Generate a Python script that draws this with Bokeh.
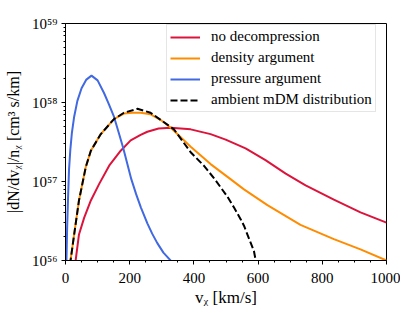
import numpy as np
from bokeh.plotting import figure
from bokeh.models import FixedTicker, CustomJSTickFormatter, Range1d
from bokeh.embed import file_html
from bokeh.resources import INLINE

# ---- data (y stored as log10 values) ----
x_ticks = [0, 200, 400, 600, 800, 1000]
x_minor = [50, 100, 150, 250, 300, 350, 450, 500, 550, 650, 700, 750, 850, 900, 950]
y_exponents = [56, 57, 58, 59]

no_decomp_v = [30, 42, 58, 79, 105, 136, 172, 203, 234, 255, 290, 328, 390, 452, 499, 561, 623, 686, 748, 836, 919, 1000]
no_decomp_log10 = [55.95, 56.33, 56.54, 56.76, 56.97, 57.2, 57.39, 57.52, 57.59, 57.63, 57.67, 57.68, 57.66, 57.6, 57.53, 57.42, 57.27, 57.1, 56.95, 56.77, 56.61, 56.48]

density_v = [14, 27, 42, 63, 79, 110, 151, 182, 208, 234, 265, 300, 328, 390, 452, 514, 556, 629, 732, 836, 919, 1000]
density_log10 = [55.95, 56.33, 56.76, 57.18, 57.39, 57.6, 57.79, 57.86, 57.87, 57.87, 57.85, 57.77, 57.68, 57.44, 57.22, 57.03, 56.9, 56.7, 56.45, 56.27, 56.14, 56.0]

pressure_v = [2, 5, 8, 11, 15, 20, 27, 37, 50, 65, 81, 100, 120, 135, 151, 165, 180, 205, 220, 235, 255, 270, 286, 305, 332]
pressure_log10 = [55.8, 56.4, 56.8, 57.15, 57.4, 57.62, 57.82, 58.02, 58.18, 58.29, 58.34, 58.28, 58.12, 57.98, 57.82, 57.63, 57.42, 57.03, 56.84, 56.67, 56.47, 56.34, 56.22, 56.1, 55.98]

ambient_v = [14, 27, 42, 63, 79, 110, 151, 182, 224, 265, 307, 338, 390, 431, 463, 504, 525, 546, 556, 587, 594]
ambient_log10 = [55.95, 56.33, 56.76, 57.18, 57.39, 57.6, 57.79, 57.87, 57.92, 57.87, 57.75, 57.66, 57.37, 57.2, 57.04, 56.81, 56.67, 56.52, 56.44, 56.12, 55.97]

series = [
    ("no decompression", no_decomp_v, no_decomp_log10, "#dc143c", "solid"),
    ("density argument", density_v, density_log10, "#ff8c00", "solid"),
    ("pressure argument", pressure_v, pressure_log10, "#4169e1", "solid"),
    ("ambient mDM distribution", ambient_v, ambient_log10, "black", "7 3"),
]

SERIF = "Liberation Serif"

p = figure(width=400, height=310, output_backend="svg", toolbar_location=None,
           y_axis_type="log",
           x_range=Range1d(0, 1000), y_range=Range1d(1e56, 1e59),
           min_border_left=65, min_border_right=14, min_border_top=23, min_border_bottom=50)

for label, vs, logs, color, dash in series:
    p.line(vs, list(10.0 ** np.array(logs)), line_color=color, line_width=2,
           line_dash=dash, legend_label=label)

p.grid.visible = False
p.background_fill_color = "white"
p.border_fill_color = "white"
p.outline_line_color = "black"
p.outline_line_width = 1
p.outline_line_alpha = 1

# x axis
xa = p.xaxis[0]
xa.ticker = FixedTicker(ticks=x_ticks, minor_ticks=x_minor)
xa.axis_label = "vᵪ [km/s]"
# y axis
ya = p.yaxis[0]
minor_y = []
for e in y_exponents[:-1]:
    for m in range(2, 10):
        minor_y.append(m * 10.0 ** e)
ya.ticker = FixedTicker(ticks=[10.0 ** e for e in y_exponents], minor_ticks=minor_y)
ya.formatter = CustomJSTickFormatter(code="""
const e = Math.round(Math.log10(tick));
const sup = {"0":"⁰","1":"¹","2":"²","3":"³","4":"⁴","5":"⁵","6":"⁶","7":"⁷","8":"⁸","9":"⁹","-":"⁻"};
return "10" + String(e).split("").map(c => sup[c]).join("");
""")
ya.axis_label = "|dN/dvᵪ|/nᵪ [cm³ s/km]"

for ax in (xa, ya):
    ax.axis_line_color = "black"
    ax.axis_line_width = 1
    ax.major_tick_line_color = "black"
    ax.minor_tick_line_color = "black"
    ax.major_tick_in = 0
    ax.major_tick_out = 4
    ax.minor_tick_in = 0
    ax.minor_tick_out = 2
    ax.major_label_text_font = SERIF
    ax.major_label_text_font_size = "15px"
    ax.major_label_text_color = "black"
    ax.axis_label_text_font = SERIF
    ax.axis_label_text_font_size = "17px"
    ax.axis_label_text_font_style = "normal"
    ax.axis_label_text_color = "black"

ya.axis_label_text_font_size = "16px"
xa.major_label_standoff = 8
xa.axis_label_standoff = 2
ya.major_label_standoff = 4
ya.axis_label_standoff = 7

p.legend.location = (101, 148)
p.legend.label_text_font = SERIF
p.legend.label_text_font_size = "15px"
p.legend.label_text_color = "black"
p.legend.glyph_width = 30
p.legend.glyph_height = 16
p.legend.label_height = 16
p.legend.label_standoff = 11
p.legend.spacing = 4
p.legend.padding = 3
p.legend.margin = 0
p.legend.border_line_color = "#cccccc"
p.legend.border_line_width = 1
p.legend.background_fill_alpha = 0.8

open("out.html", "w").write(file_html(p, INLINE))
